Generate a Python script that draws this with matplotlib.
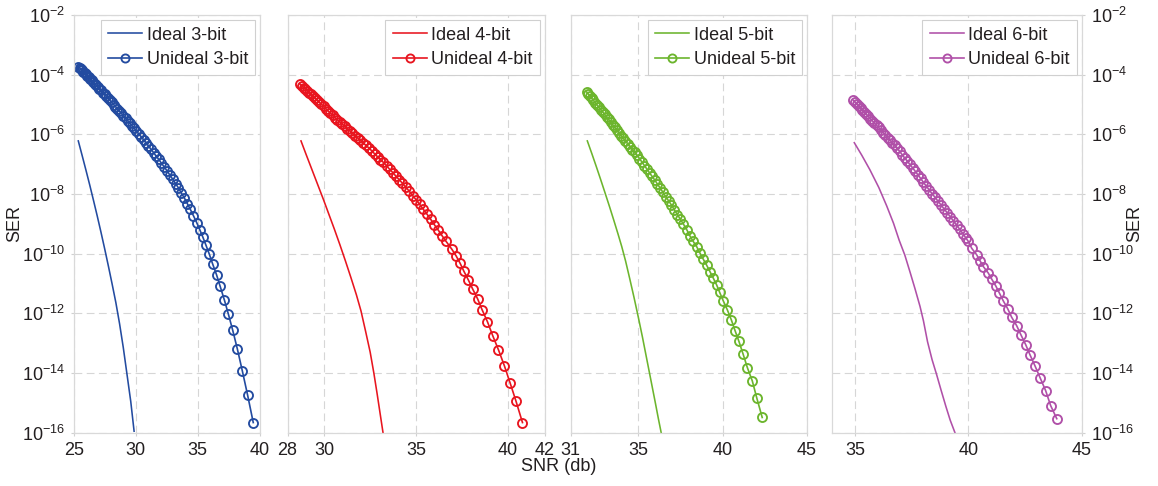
import numpy as np
import matplotlib
matplotlib.use('Agg')
import matplotlib.pyplot as plt
from matplotlib.ticker import FixedLocator, FuncFormatter, NullLocator

plt.rcParams['font.family'] = ['Liberation Sans', 'DejaVu Sans']
plt.rcParams['mathtext.fontset'] = 'custom'
plt.rcParams['mathtext.rm'] = 'Liberation Sans'
plt.rcParams['mathtext.it'] = 'Liberation Sans:italic'

# SER values are stored as log10(SER)

# ---- 3-bit ----
snr_ideal_3 = [25.37, 25.70, 26.00, 26.30, 26.60, 26.90, 27.20, 27.50, 27.80, 28.10,
               28.40, 28.70, 29.00, 29.30, 29.60, 29.87]
ser_ideal_3 = [-6.22, -6.74, -7.22, -7.71, -8.22, -8.74, -9.28, -9.84, -10.42, -11.02,
               -11.64, -12.35, -13.15, -14.05, -14.95, -15.95]
snr_unideal_3 = [25.37, 25.47, 25.57, 25.67, 25.77, 25.88, 25.99, 26.10, 26.21, 26.33,
                 26.45, 26.57, 26.69, 26.82, 26.95, 27.08, 27.21, 27.35, 27.49, 27.63,
                 27.77, 27.92, 28.07, 28.22, 28.37, 28.53, 28.69, 28.85, 29.01, 29.18,
                 29.35, 29.52, 29.70, 29.88, 30.06, 30.25, 30.44, 30.63, 30.83, 31.03,
                 31.23, 31.44, 31.65, 31.86, 32.08, 32.30, 32.52, 32.75, 32.98, 33.21,
                 33.44, 33.68, 33.92, 34.16, 34.40, 34.66, 34.92, 35.18, 35.42, 35.67,
                 35.94, 36.21, 36.53, 36.80, 37.15, 37.47, 37.82, 38.19, 38.60, 39.03, 39.48]
ser_unideal_3 = [-3.73, -3.77, -3.81, -3.86, -3.90, -3.95, -3.99, -4.04, -4.09, -4.14,
                 -4.19, -4.25, -4.30, -4.36, -4.42, -4.47, -4.53, -4.60, -4.66, -4.72,
                 -4.79, -4.86, -4.93, -5.00, -5.07, -5.14, -5.22, -5.30, -5.37, -5.46,
                 -5.54, -5.62, -5.71, -5.80, -5.89, -5.99, -6.08, -6.18, -6.28, -6.39,
                 -6.50, -6.61, -6.73, -6.84, -6.97, -7.09, -7.22, -7.36, -7.50, -7.65,
                 -7.79, -7.97, -8.13, -8.32, -8.51, -8.73, -8.96, -9.21, -9.45, -9.72,
                 -10.02, -10.35, -10.72, -11.08, -11.55, -12.02, -12.56, -13.18, -13.93, -14.75, -15.66]

# ---- 4-bit ----
snr_ideal_4 = [28.73, 29.00, 29.30, 29.60, 29.95, 30.25, 30.55, 30.85, 31.15, 31.45,
               31.75, 32.00, 32.25, 32.50, 32.70, 32.88, 33.04, 33.20]
ser_ideal_4 = [-6.22, -6.66, -7.14, -7.62, -8.18, -8.68, -9.18, -9.70, -10.24, -10.80,
               -11.38, -11.92, -12.60, -13.30, -14.00, -14.70, -15.35, -16.00]
snr_unideal_4 = [28.67, 28.77, 28.87, 28.97, 29.07, 29.17, 29.28, 29.39, 29.50, 29.61,
                 29.72, 29.84, 29.96, 30.08, 30.20, 30.32, 30.45, 30.58, 30.71, 30.84,
                 30.97, 31.11, 31.25, 31.39, 31.53, 31.67, 31.82, 31.97, 32.12, 32.27,
                 32.42, 32.58, 32.74, 32.90, 33.06, 33.22, 33.39, 33.56, 33.73, 33.90,
                 34.08, 34.26, 34.44, 34.62, 34.81, 35.00, 35.19, 35.39, 35.59, 35.79,
                 36.00, 36.21, 36.42, 36.64, 36.95, 37.18, 37.40, 37.60, 37.85, 38.09,
                 38.36, 38.60, 38.89, 39.18, 39.49, 39.81, 40.13, 40.45, 40.80]
ser_unideal_4 = [-4.31, -4.37, -4.43, -4.48, -4.54, -4.60, -4.66, -4.73, -4.79, -4.86,
                 -4.92, -4.99, -5.06, -5.14, -5.21, -5.28, -5.36, -5.44, -5.51, -5.58,
                 -5.65, -5.73, -5.81, -5.88, -5.96, -6.04, -6.12, -6.20, -6.29, -6.37,
                 -6.45, -6.55, -6.65, -6.75, -6.85, -6.94, -7.05, -7.17, -7.28, -7.40,
                 -7.52, -7.64, -7.77, -7.90, -8.05, -8.19, -8.34, -8.51, -8.67, -8.84,
                 -9.03, -9.21, -9.40, -9.59, -9.85, -10.07, -10.32, -10.58, -10.88, -11.19,
                 -11.52, -11.88, -12.28, -12.75, -13.22, -13.75, -14.34, -14.95, -15.66]

# ---- 5-bit ----
snr_ideal_5 = [31.98, 32.25, 32.50, 32.75, 33.03, 33.30, 33.55, 33.80, 34.02, 34.25,
               34.50, 34.75, 35.00, 35.25, 35.50, 35.75, 36.00, 36.20, 36.36]
ser_ideal_5 = [-6.22, -6.65, -7.06, -7.48, -7.96, -8.43, -8.88, -9.34, -9.76, -10.25,
               -10.85, -11.47, -12.12, -12.80, -13.52, -14.24, -14.96, -15.55, -16.00]
snr_unideal_5 = [31.94, 32.04, 32.14, 32.24, 32.34, 32.45, 32.56, 32.67, 32.78, 32.89,
                 33.00, 33.12, 33.24, 33.36, 33.48, 33.60, 33.72, 33.85, 33.98, 34.11,
                 34.24, 34.37, 34.51, 34.65, 34.79, 34.93, 35.07, 35.22, 35.37, 35.52,
                 35.67, 35.82, 35.98, 36.14, 36.30, 36.46, 36.63, 36.80, 36.97, 37.14,
                 37.32, 37.50, 37.68, 37.87, 38.06, 38.26, 38.46, 38.66, 38.85, 39.05,
                 39.25, 39.45, 39.65, 39.83, 40.04, 40.28, 40.52, 40.74, 40.97, 41.22,
                 41.47, 41.76, 42.03, 42.35]
ser_unideal_5 = [-4.58, -4.65, -4.72, -4.79, -4.86, -4.94, -5.02, -5.10, -5.17, -5.25,
                 -5.33, -5.42, -5.50, -5.59, -5.68, -5.76, -5.85, -5.94, -6.04, -6.13,
                 -6.22, -6.31, -6.41, -6.51, -6.60, -6.70, -6.81, -6.93, -7.05, -7.17,
                 -7.29, -7.41, -7.53, -7.67, -7.80, -7.94, -8.09, -8.23, -8.37, -8.53,
                 -8.69, -8.85, -9.01, -9.19, -9.40, -9.59, -9.76, -9.98, -10.18, -10.38,
                 -10.60, -10.82, -11.05, -11.30, -11.58, -11.88, -12.22, -12.58, -12.94, -13.37,
                 -13.82, -14.26, -14.84, -15.49]

# ---- 6-bit ----
snr_ideal_6 = [34.97, 35.30, 35.66, 36.05, 36.40, 36.70, 36.95, 37.20, 37.43, 37.65,
               37.87, 38.02, 38.20, 38.40, 38.60, 38.80, 39.01, 39.20, 39.41]
ser_ideal_6 = [-6.28, -6.70, -7.19, -7.78, -8.40, -8.98, -9.55, -10.05, -10.62, -11.18,
               -11.77, -12.25, -12.95, -13.55, -14.05, -14.58, -15.12, -15.58, -16.00]
snr_unideal_6 = [34.93, 35.01, 35.09, 35.17, 35.25, 35.33, 35.41, 35.50, 35.59, 35.68,
                 35.77, 35.86, 35.95, 36.04, 36.14, 36.24, 36.34, 36.44, 36.54, 36.64,
                 36.75, 36.86, 36.97, 37.08, 37.19, 37.30, 37.42, 37.54, 37.66, 37.78,
                 37.90, 38.02, 38.14, 38.27, 38.40, 38.53, 38.66, 38.79, 38.92, 39.06,
                 39.20, 39.34, 39.48, 39.62, 39.76, 39.88, 40.00, 40.15, 40.37, 40.51,
                 40.66, 40.88, 41.03, 41.21, 41.37, 41.54, 41.74, 41.91, 42.13, 42.32,
                 42.53, 42.72, 42.94, 43.16, 43.41, 43.63, 43.90]
ser_unideal_6 = [-4.86, -4.93, -4.99, -5.06, -5.12, -5.19, -5.25, -5.33, -5.40, -5.48,
                 -5.55, -5.62, -5.70, -5.77, -5.85, -5.94, -6.02, -6.11, -6.19, -6.28,
                 -6.37, -6.47, -6.57, -6.68, -6.79, -6.89, -7.01, -7.12, -7.24, -7.36,
                 -7.48, -7.61, -7.73, -7.86, -7.99, -8.11, -8.24, -8.36, -8.49, -8.62,
                 -8.76, -8.90, -9.04, -9.18, -9.33, -9.46, -9.59, -9.82, -10.04, -10.23,
                 -10.43, -10.65, -10.85, -11.08, -11.32, -11.58, -11.85, -12.13, -12.41, -12.72,
                 -13.05, -13.39, -13.76, -14.15, -14.59, -15.09, -15.53]

bits = [3, 4, 5, 6]
colors = ['#234ba0', '#e8151f', '#6cb52d', '#b050a8']
xlims = [(25, 40), (28, 42), (31, 45), (34, 45)]
xticks = [[25, 30, 35, 40], [28, 30, 35, 40, 42], [31, 35, 40, 45], [35, 40, 45]]
ideal = [(snr_ideal_3, ser_ideal_3), (snr_ideal_4, ser_ideal_4),
         (snr_ideal_5, ser_ideal_5), (snr_ideal_6, ser_ideal_6)]
unideal = [(snr_unideal_3, ser_unideal_3), (snr_unideal_4, ser_unideal_4),
           (snr_unideal_5, ser_unideal_5), (snr_unideal_6, ser_unideal_6)]

W, H = 1158, 486
# axes boxes in pixels: left, right
boxes = [(73.7, 259.7), (287.6, 544.5), (570.8, 806.9), (832.3, 1081.7)]
top_px, bot_px = 15.0, 432.7

txt = '#231f20'
fs = 13

fig = plt.figure(figsize=(W / 100, H / 100), dpi=100)

def sci(v, pos):
    return r'$10^{%d}$' % int(round(np.log10(v)))

for i in range(4):
    l, r = boxes[i]
    ax = fig.add_axes([l / W, (H - bot_px) / H, (r - l) / W, (bot_px - top_px) / H])
    c = colors[i]
    xi, yi = ideal[i]
    xu, yu = unideal[i]
    ax.semilogy(xi, 10.0 ** np.array(yi), color=c, lw=1.15,
                label='Ideal %d-bit' % bits[i])
    ax.semilogy(xu, 10.0 ** np.array(yu), color=c, lw=1.2, marker='o', ms=6.5,
                mfc='none', mec=c, mew=1.35, label='Unideal %d-bit' % bits[i])
    ax.set_xlim(*xlims[i])
    ax.set_ylim(1e-16, 1e-2)
    ax.xaxis.set_major_locator(FixedLocator(xticks[i]))
    ax.yaxis.set_major_locator(FixedLocator([10.0 ** k for k in range(-16, -1, 2)]))
    ax.yaxis.set_minor_locator(NullLocator())
    ax.yaxis.set_major_formatter(FuncFormatter(sci))
    ax.grid(True, which='major', color='#d6d6d6', lw=0.8, linestyle=(0, (7, 4)))
    ax.set_axisbelow(True)
    for s in ax.spines.values():
        s.set_color('#d9d9d9')
        s.set_linewidth(0.9)
    ax.tick_params(which='both', direction='out', length=2.5, color='#d0d0d0',
                   labelsize=fs, labelcolor=txt, pad=4)
    if i == 1 or i == 2:
        ax.tick_params(axis='y', labelleft=False, length=0)
    if i == 3:
        ax.yaxis.tick_right()
        ax.tick_params(axis='y', labelright=True, labelleft=False)
    leg = ax.legend(loc='upper right', fontsize=fs, frameon=True, fancybox=False,
                    framealpha=1, edgecolor='#d0d0d0', borderpad=0.4,
                    handlelength=1.9, handletextpad=0.25, labelspacing=0.4,
                    borderaxespad=0.25, markerscale=0.9)
    leg.get_frame().set_linewidth(0.8)
    for t in leg.get_texts():
        t.set_color(txt)

mid = 1 - ((top_px + bot_px) / 2) / H
fig.text(15 / W, mid, 'SER', rotation=90, ha='center', va='center', fontsize=fs, color=txt)
fig.text(1135 / W, mid, 'SER', rotation=90, ha='center', va='center', fontsize=fs, color=txt)
fig.text(559 / W, 1 - 466 / H, 'SNR (db)', ha='center', va='center', fontsize=fs, color=txt)

fig.savefig('out.png', dpi=100)
